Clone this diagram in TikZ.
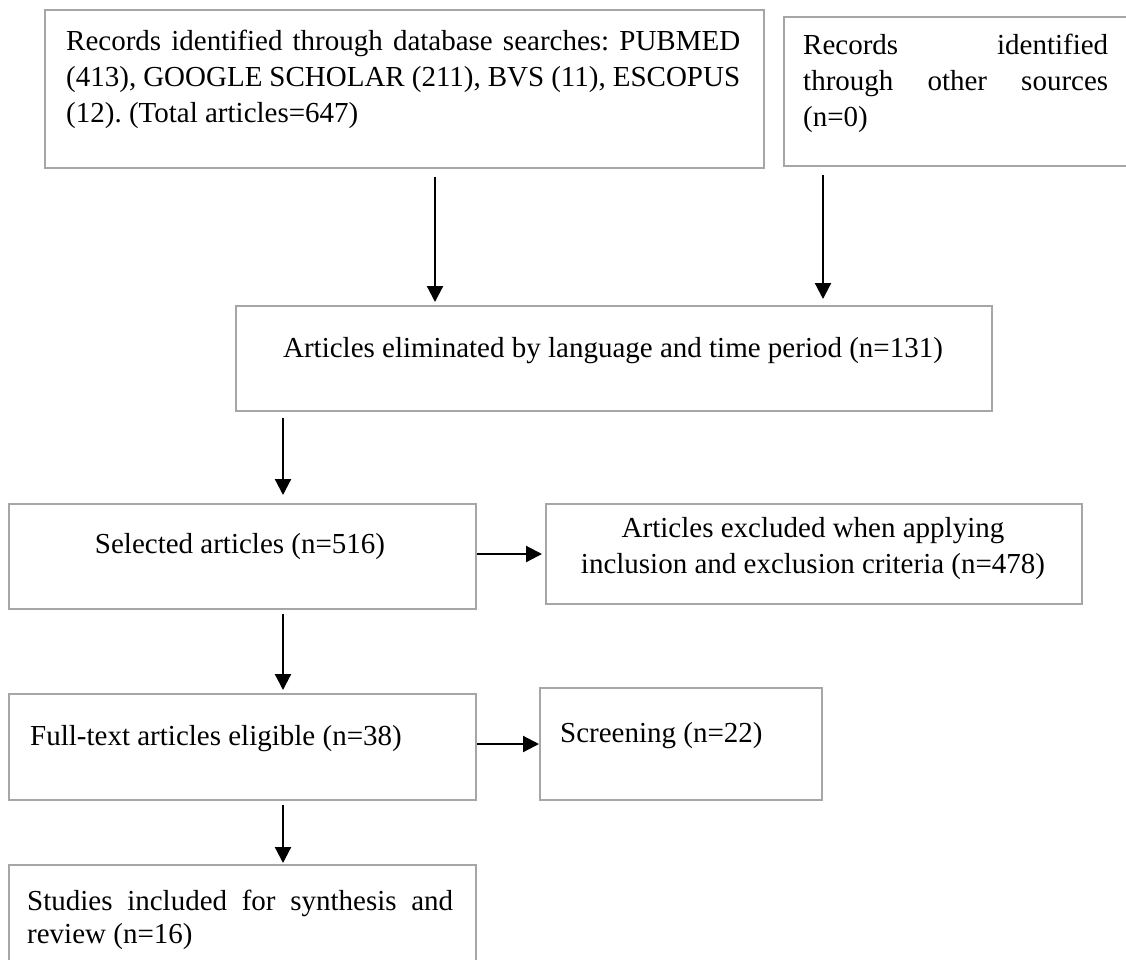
\documentclass[tikz,border=0pt]{standalone}
\usepackage{fontspec}
\setmainfont{Liberation Serif}
\usetikzlibrary{arrows.meta}
\definecolor{boxgray}{HTML}{A6A6A6}

\begin{document}
\begin{tikzpicture}[x=1pt, y=1pt,
    box/.style={draw=boxgray, line width=2pt, inner sep=0pt, anchor=north west},
    txt/.style={inner sep=0pt, font=\fontsize{29}{36}\selectfont\frenchspacing},
    arr/.style={line width=2.2pt, -{Triangle[length=16pt, width=16pt]}}]
  \useasboundingbox (0,0) rectangle (1126,-959);
  \clip (0,0) rectangle (1126,-959);

  % boxes
  \node[box, minimum width=719pt, minimum height=158pt] (src) at (44,-9) {};
  \node[box, minimum width=360pt, minimum height=149pt] (other) at (783,-16) {};
  \node[box, minimum width=756pt, minimum height=105pt] (elim) at (235,-305) {};
  \node[box, minimum width=467pt, minimum height=105pt] (sel) at (8,-503) {};
  \node[box, minimum width=536pt, minimum height=100pt] (excl) at (545,-503) {};
  \node[box, minimum width=467pt, minimum height=106pt] (full) at (8,-693) {};
  \node[box, minimum width=282pt, minimum height=112pt] (screen) at (539,-687) {};
  \node[box, minimum width=467pt, minimum height=120pt] (incl) at (8,-864) {};

  % texts
  \node[txt, anchor=base west, text width=674pt, align=justify] (src-txt) at (66,-50.5)
    {Records identified through database searches: PUBMED\linebreak
     (413), GOOGLE SCHOLAR (211), BVS (11), ESCOPUS\linebreak
     (12). (Total articles=647)};
  \node[txt, anchor=base west, text width=305pt, align=justify] (other-txt) at (803,-54)
    {Records identified\linebreak through other sources\linebreak (n=0)};
  \node[txt, anchor=base] (elim-txt) at (613,-357)
    {Articles eliminated by language and time period (n=131)};
  \node[txt, anchor=base] (sel-txt) at (240,-553) {Selected articles (n=516)};
  \node[txt, anchor=base, align=center] (excl-txt) at (813,-573)
    {Articles excluded when applying\\inclusion and exclusion criteria (n=478)};
  \node[txt, anchor=base west] (full-txt) at (30,-745) {Full-text articles eligible (n=38)};
  \node[txt, anchor=base west] (screen-txt) at (560,-742) {Screening (n=22)};
  \node[txt, anchor=base west, text width=426pt, align=justify,
        font=\fontsize{29}{33}\selectfont] (incl-txt) at (27,-910)
    {Studies included for synthesis and\linebreak review (n=16)};

  % arrows
  \draw[arr, shorten >=3pt] ([xshift=30.5pt, yshift=-8pt]src.south) coordinate (a) -- (a |- elim.north);
  \draw[arr, shorten >=6pt] ([xshift=40pt, yshift=-8pt]other.south west) coordinate (b) -- (b |- elim.north);
  \draw[arr, shorten >=8pt] ([xshift=48pt, yshift=-6pt]elim.south west) coordinate (c) -- (c |- sel.north);
  \draw[arr, shorten >=3pt] ([yshift=2.5pt]sel.east) coordinate (d) -- (d -| excl.west);
  \draw[arr, shorten >=3pt] ([xshift=275pt, yshift=-4pt]sel.south west) coordinate (e) -- (e |- full.north);
  \draw[arr] ([yshift=3pt]full.east) coordinate (f) -- (f -| screen.west);
  \draw[arr, shorten >=1pt] ([xshift=275pt, yshift=-4pt]full.south west) coordinate (g) -- (g |- incl.north);
\end{tikzpicture}
\end{document}
